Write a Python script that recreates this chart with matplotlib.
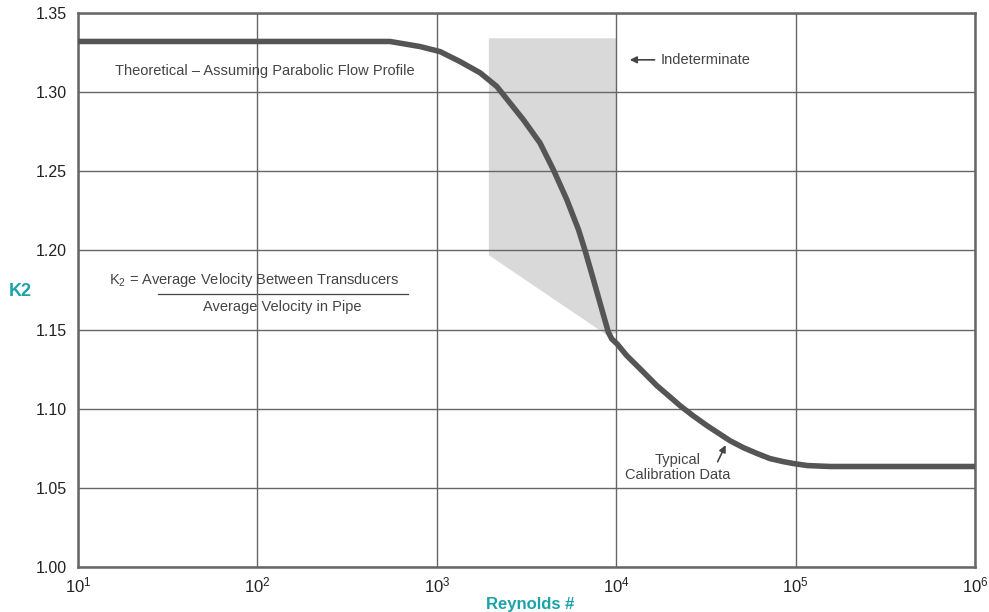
import matplotlib
matplotlib.use('Agg')
import matplotlib.pyplot as plt

plt.rcParams['font.family'] = ['Liberation Sans', 'DejaVu Sans']
plt.rcParams['mathtext.fontset'] = 'custom'
plt.rcParams['mathtext.rm'] = 'Liberation Sans'
plt.rcParams['mathtext.default'] = 'regular'

# K2 curve (Reynolds number, K2)
reynolds = [10, 548, 805, 1042, 1346, 1742, 2158, 3034, 3758, 4457, 5297,
            6152, 6699, 7447, 8299, 9036, 9441, 10116, 11430, 13580, 16870,
            19500, 22700, 26790, 32060, 43050, 50930, 60950, 71940, 85110,
            96830, 115900, 155600, 1000000]
k2 = [1.332, 1.332, 1.3288, 1.3256, 1.3193, 1.3122, 1.3036, 1.2826,
      1.2679, 1.2511, 1.2322, 1.2133, 1.2000, 1.1819, 1.163, 1.1483, 1.1441,
      1.1409, 1.1336, 1.1252, 1.1145, 1.1084, 1.1019, 1.0956, 1.0893, 1.0798,
      1.0755, 1.0717, 1.0685, 1.0666, 1.0654, 1.0641, 1.0635, 1.0635]

# indeterminate region
shade_re = [1950, 10000, 10000, 9000, 1950]
shade_k2 = [1.334, 1.334, 1.148, 1.146, 1.197]

x_ticks = [10, 100, 1000, 10000, 100000, 1000000]
x_labels = ['$10^1$', '$10^2$', '$10^3$', '$10^4$', '$10^5$', '$10^6$']
y_ticks = [1.00, 1.05, 1.10, 1.15, 1.20, 1.25, 1.30, 1.35]

teal = '#1aa3a8'
line_col = '#555555'
txt_col = '#444444'

fig = plt.figure(figsize=(9.89, 6.12), dpi=100)
ax = fig.add_axes([0.0789, 0.0735, 0.907, 0.9053])

ax.fill(shade_re, shade_k2, color='#d9d9da', zorder=1, lw=0)
ax.plot(reynolds, k2, color=line_col, lw=4, zorder=3, solid_joinstyle='round')

ax.set_xscale('log')
ax.set_xlim(10, 1e6)
ax.set_ylim(1.0, 1.35)
ax.set_xticks(x_ticks)
ax.set_xticklabels(x_labels)
ax.minorticks_off()
ax.set_yticks(y_ticks)
ax.set_yticklabels(['%.2f' % v for v in y_ticks])
ax.tick_params(length=0, labelsize=11.5, colors='#222222', pad=8)
ax.tick_params(axis='x', labelsize=12, pad=6)
ax.grid(True, color='#666666', lw=1.0, zorder=2)
ax.set_axisbelow(False)
for s in ax.spines.values():
    s.set_color('#666666')
    s.set_linewidth(1.8)

ax.text(10**2.04, 1.3134, 'Theoretical – Assuming Parabolic Flow Profile',
        ha='center', va='center', fontsize=10.5, color=txt_col)

ax.annotate('Indeterminate', xy=(10**4.06, 1.3204), xytext=(10**4.245, 1.3204),
            ha='left', va='center', fontsize=10.5, color=txt_col,
            arrowprops=dict(arrowstyle='-|>', color=txt_col, lw=1.2,
                            mutation_scale=10))

ax.text(10**1.17, 1.181, 'K$_2$ = Average Velocity Between Transducers',
        ha='left', va='center', fontsize=10.5, color=txt_col)
ax.plot([10**1.443, 10**2.838], [1.1725, 1.1725], color=txt_col, lw=0.9)
ax.text(10**2.14, 1.164, 'Average Velocity in Pipe',
        ha='center', va='center', fontsize=10.5, color=txt_col)

ax.text(10**4.34, 1.063, 'Typical\nCalibration Data', ha='center', va='center',
        fontsize=10.5, color=txt_col, linespacing=1.1)
ax.annotate('', xy=(10**4.61, 1.0770), xytext=(10**4.565, 1.0665),
            arrowprops=dict(arrowstyle='-|>', color=txt_col, lw=1.2,
                            mutation_scale=10, shrinkA=0, shrinkB=0))

fig.text(20 / 989, 1 - 291 / 612, 'K2', color=teal, fontsize=13,
         fontweight='bold', ha='center', va='center')
fig.text(530 / 989, 1 - 604 / 612, 'Reynolds #', color=teal, fontsize=12,
         fontweight='bold', ha='center', va='center')

fig.savefig('out.png', dpi=100)
